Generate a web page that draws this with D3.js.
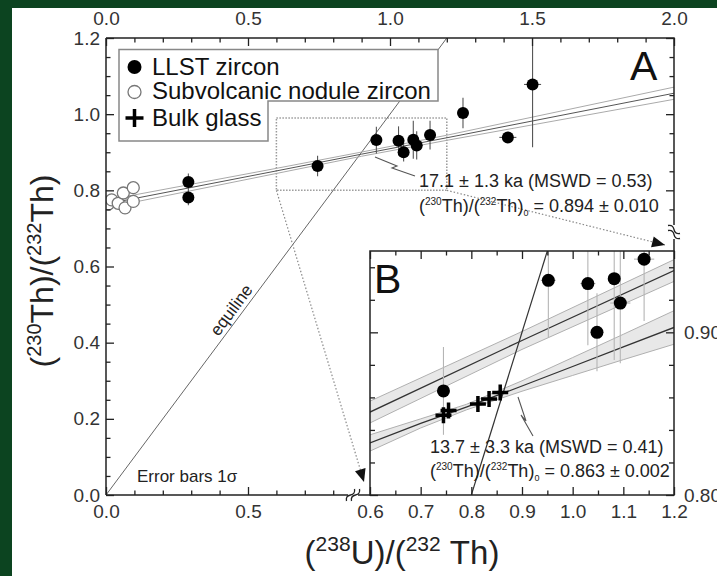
<!DOCTYPE html>
<html>
<head>
<meta charset="utf-8">
<script src="https://cdn.jsdelivr.net/npm/d3@7"></script>
<style>
body { margin: 0; background: #0c4420; }
svg { display: block; font-family: "Liberation Sans", Arial, sans-serif; }
</style>
</head>
<body>
<script>
// LLST zircon
var llstX  = [0.29, 0.29, 0.745, 0.952, 1.030, 1.048, 1.082, 1.094, 1.141, 1.257, 1.415, 1.502];
var llstY  = [0.822, 0.781, 0.864, 0.932, 0.930, 0.900, 0.933, 0.918, 0.945, 1.003, 0.939, 1.078];
var llstSx = [0.01, 0.01, 0.01, 0.015, 0.015, 0.012, 0.012, 0.02, 0.02, 0.015, 0.03, 0.03];
var llstSy = [0.022, 0.02, 0.027, 0.035, 0.038, 0.024, 0.05, 0.037, 0.038, 0.04, 0.012, 0.165];

// subvolcanic nodule zircon
var nodX = [0.008, 0.020, 0.043, 0.061, 0.067, 0.096, 0.096];
var nodY = [0.764, 0.775, 0.766, 0.793, 0.754, 0.771, 0.807];

// bulk glass
var glassX = [0.745, 0.755, 0.813, 0.835, 0.857];
var glassY = [0.849, 0.852, 0.856, 0.859, 0.863];

// isochrons (centre line and half width of the error envelope)
var isoAX    = [0, 0.6, 0.9, 1.2, 2.0];
var isoAY    = [0.764, 0.851, 0.895, 0.938, 1.055];
var isoAHalf = [0.010, 0.0067, 0.0055, 0.0067, 0.016];
var isoBX    = [0.6, 0.7, 0.79, 0.9, 1.0, 1.1, 1.2];
var isoBY    = [0.832, 0.844, 0.854, 0.867, 0.879, 0.891, 0.903];
var isoBHalf = [0.005, 0.0028, 0.0017, 0.0032, 0.0055, 0.0078, 0.0103];
var equiline = [0, 1.2];
var zoomBox  = [0.6, 1.2, 0.80, 0.99];

// ticks
var xMajA = [0, 0.5, 1.0, 1.5, 2.0];
var xMinA = [0.1, 0.2, 0.3, 0.4, 0.6, 0.7, 0.8, 0.9, 1.1, 1.2, 1.3, 1.4, 1.6, 1.7, 1.8, 1.9];
var yMajA = [0, 0.2, 0.4, 0.6, 0.8, 1.0, 1.2];
var yMinA = [0.05, 0.1, 0.15, 0.25, 0.3, 0.35, 0.45, 0.5, 0.55, 0.65, 0.7, 0.75, 0.85, 0.9, 0.95, 1.05, 1.1, 1.15];
var xBotMajA = [0, 0.5];
var xBotMinA = [0.1, 0.2, 0.3, 0.4, 0.6, 0.7, 0.8];
var yRightMajA = [0.8, 1.0, 1.2];
var yRightMinA = [0.75, 0.85, 0.9, 0.95, 1.05, 1.1, 1.15];
var xMajB = [0.6, 0.7, 0.8, 0.9, 1.0, 1.1, 1.2];
var xMinB = [0.65, 0.75, 0.85, 0.95, 1.05, 1.15];
var yMajB = [0.80, 0.90];
var yMinB = [0.82, 0.84, 0.86, 0.88, 0.92, 0.94];

var W = 717, H = 576;
var svg = d3.select('body').append('svg').attr('width', W).attr('height', H);
svg.append('rect').attr('width', W).attr('height', H).attr('fill', '#0c4420');
svg.append('rect').attr('x', 12).attr('y', 8).attr('width', W - 12).attr('height', H - 8).attr('fill', '#fff');

var xA = d3.scaleLinear().domain([0, 2]).range([106, 674]);
var yA = d3.scaleLinear().domain([0, 1.2]).range([495, 38]);
var xB = d3.scaleLinear().domain([0.6, 1.2]).range([370, 674]);
var yB = d3.scaleLinear().domain([0.8, 0.95]).range([495, 251]);

var defs = svg.append('defs');
defs.append('clipPath').attr('id', 'clipA').append('rect')
	.attr('x', 106).attr('y', 38).attr('width', 568).attr('height', 457);
defs.append('clipPath').attr('id', 'clipB').append('rect')
	.attr('x', 370).attr('y', 251).attr('width', 304).attr('height', 244);

// ---------- panel A ----------
var gA = svg.append('g').attr('clip-path', 'url(#clipA)');

gA.append('rect')
	.attr('x', xA(zoomBox[0])).attr('y', yA(zoomBox[3]))
	.attr('width', xA(zoomBox[1]) - xA(zoomBox[0]))
	.attr('height', yA(zoomBox[2]) - yA(zoomBox[3]))
	.attr('fill', 'none').attr('stroke', '#9a9a9a').attr('stroke-width', 1.5)
	.attr('stroke-dasharray', '1.5,1.5');

gA.append('line')
	.attr('x1', xA(equiline[0])).attr('y1', yA(equiline[0]))
	.attr('x2', xA(equiline[1])).attr('y2', yA(equiline[1]))
	.attr('stroke', '#666').attr('stroke-width', 1);

var isoA = isoAX.map((x, i) => ({x: x, y: isoAY[i], h: isoAHalf[i]}));
[[-1, '#aaa'], [1, '#aaa'], [0, '#555']].forEach(function(s) {
	gA.append('path')
		.attr('d', d3.line().x(d => xA(d.x)).y(d => yA(d.y + s[0] * d.h))(isoA))
		.attr('fill', 'none').attr('stroke', s[1]).attr('stroke-width', 1);
});

var llst = llstX.map((x, i) => ({x: x, y: llstY[i], sx: llstSx[i], sy: llstSy[i]}));
var nod = nodX.map((x, i) => ({x: x, y: nodY[i], sx: 0.01, sy: 0.015}));

function errBars(g, data, xs, ys, col) {
	g.selectAll(null).data(data).enter().append('line')
		.attr('x1', d => xs(d.x)).attr('x2', d => xs(d.x))
		.attr('y1', d => ys(d.y - d.sy)).attr('y2', d => ys(d.y + d.sy))
		.attr('stroke', col).attr('stroke-width', 1.1);
	g.selectAll(null).data(data).enter().append('line')
		.attr('x1', d => xs(d.x - d.sx)).attr('x2', d => xs(d.x + d.sx))
		.attr('y1', d => ys(d.y)).attr('y2', d => ys(d.y))
		.attr('stroke', col).attr('stroke-width', 1.1);
}

errBars(gA, nod, xA, yA, '#888');
errBars(gA, llst, xA, yA, '#555');

gA.selectAll(null).data(nod).enter().append('circle')
	.attr('cx', d => xA(d.x)).attr('cy', d => yA(d.y)).attr('r', 6)
	.attr('fill', '#fff').attr('stroke', '#777').attr('stroke-width', 1.3);
gA.selectAll(null).data(llst).enter().append('circle')
	.attr('cx', d => xA(d.x)).attr('cy', d => yA(d.y)).attr('r', 6)
	.attr('fill', '#000');

// legend
svg.append('polygon')
	.attr('points', '119,49.5 438,49.5 438,101 268,101 268,141 119,141')
	.attr('fill', '#fff').attr('stroke', '#888').attr('stroke-width', 1.5);
svg.append('circle').attr('cx', 134.5).attr('cy', 67).attr('r', 7).attr('fill', '#000');
svg.append('circle').attr('cx', 134.5).attr('cy', 92).attr('r', 6.5)
	.attr('fill', '#fff').attr('stroke', '#777').attr('stroke-width', 1.3);
svg.append('path').attr('d', 'M125.5,118H143.5M134.5,109V127')
	.attr('stroke', '#000').attr('stroke-width', 3.5);
[['LLST zircon', 75], ['Subvolcanic nodule zircon', 99], ['Bulk glass', 126]].forEach(function(t) {
	svg.append('text').attr('x', 152).attr('y', t[1]).attr('font-size', 24)
		.attr('fill', '#111').text(t[0]);
});

// dotted leaders with arrow heads
function leader(x1, y1, x2, y2) {
	svg.append('line').attr('x1', x1).attr('y1', y1).attr('x2', x2).attr('y2', y2)
		.attr('stroke', '#888').attr('stroke-width', 1.2).attr('stroke-dasharray', '1.5,2');
	var a = Math.atan2(y2 - y1, x2 - x1) * 180 / Math.PI;
	svg.append('path').attr('d', 'M0,0L-13,-5.5L-13,5.5Z').attr('fill', '#111')
		.attr('transform', 'translate(' + x2 + ',' + y2 + ') rotate(' + a + ')');
}
leader(xA(zoomBox[0]), yA(zoomBox[2]), 364, 482);
leader(xA(zoomBox[1]), yA(zoomBox[2]), 665, 245);

// ---------- panel B ----------
svg.append('rect').attr('x', 370).attr('y', 251).attr('width', 304).attr('height', 244).attr('fill', '#fff');
var gB = svg.append('g').attr('clip-path', 'url(#clipB)');

var isoB = isoBX.map((x, i) => ({x: x, y: isoBY[i], h: isoBHalf[i]}));
[isoA, isoB].forEach(function(iso) {
	gB.append('path')
		.attr('d', d3.area().x(d => xB(d.x)).y0(d => yB(d.y - d.h)).y1(d => yB(d.y + d.h))(iso))
		.attr('fill', '#e8e8e8');
	[-1, 1].forEach(function(s) {
		gB.append('path')
			.attr('d', d3.line().x(d => xB(d.x)).y(d => yB(d.y + s * d.h))(iso))
			.attr('fill', 'none').attr('stroke', '#b0b0b0').attr('stroke-width', 1);
	});
	gB.append('path')
		.attr('d', d3.line().x(d => xB(d.x)).y(d => yB(d.y))(iso))
		.attr('fill', 'none').attr('stroke', '#333').attr('stroke-width', 1.3);
});

gB.append('line')
	.attr('x1', xB(0.8)).attr('y1', yB(0.8)).attr('x2', xB(1.0)).attr('y2', yB(1.0))
	.attr('stroke', '#333').attr('stroke-width', 1.2);

errBars(gB, llst, xB, yB, '#b5b5b5');
gB.selectAll(null).data(llst).enter().append('circle')
	.attr('cx', d => xB(d.x)).attr('cy', d => yB(d.y)).attr('r', 6.5)
	.attr('fill', '#000');

var glass = glassX.map((x, i) => ({x: x, y: glassY[i]}));
gB.selectAll(null).data(glass).enter().append('path')
	.attr('d', 'M-8,0H8M0,-8V8')
	.attr('transform', d => 'translate(' + xB(d.x) + ',' + yB(d.y) + ')')
	.attr('stroke', '#000').attr('stroke-width', 3.5);

// ---------- axes ----------
function ticks(gen, scale, vals, size, fmt, pad, tx, ty) {
	var g = svg.append('g').attr('transform', 'translate(' + tx + ',' + ty + ')')
		.call(gen(scale).tickValues(vals).tickSize(size).tickPadding(pad)
			.tickFormat(fmt ? d3.format(fmt) : ''));
	g.select('.domain').remove();
	g.attr('font-size', 19).attr('font-family', null).attr('color', '#222');
	g.selectAll('line').attr('stroke-width', 1.3);
	g.selectAll('text').attr('fill', '#333');
}

ticks(d3.axisLeft, yA, yMajA, -8, '.1f', 6, 106, 0);
ticks(d3.axisLeft, yA, yMinA, -4.5, null, 6, 106, 0);
ticks(d3.axisTop, xA, xMajA, -8, '.1f', 13, 0, 38);
ticks(d3.axisTop, xA, xMinA, -4.5, null, 13, 0, 38);
ticks(d3.axisRight, yA, yRightMajA, -8, null, 6, 674, 0);
ticks(d3.axisRight, yA, yRightMinA, -4.5, null, 6, 674, 0);
ticks(d3.axisBottom, xA, xBotMajA, -8, '.1f', 10, 0, 495);
ticks(d3.axisBottom, xA, xBotMinA, -4.5, null, 10, 0, 495);

ticks(d3.axisBottom, xB, xMajB, -8, '.1f', 10, 0, 495);
ticks(d3.axisBottom, xB, xMinB, -4.5, null, 10, 0, 495);
ticks(d3.axisTop, xB, xMajB, -8, null, 10, 0, 251);
ticks(d3.axisTop, xB, xMinB, -4.5, null, 10, 0, 251);
ticks(d3.axisRight, yB, yMajB, -8, '.2f', 10, 674, 0);
ticks(d3.axisRight, yB, yMinB, -5, null, 10, 674, 0);
ticks(d3.axisLeft, yB, yMajB, -8, null, 10, 370, 0);
ticks(d3.axisLeft, yB, yMinB, -5, null, 10, 370, 0);

var frame = 'M106,38V495M106,38H674V225M674,239V251M106,495H348M358,495H370';
svg.append('path').attr('d', frame).attr('fill', 'none').attr('stroke', '#222').attr('stroke-width', 1.5);
svg.append('rect').attr('x', 370).attr('y', 251).attr('width', 304).attr('height', 244)
	.attr('fill', 'none').attr('stroke', '#222').attr('stroke-width', 1.5);

function breakMark(cx, cy, rot) {
	var g = svg.append('g').attr('transform', 'translate(' + cx + ',' + cy + ') rotate(' + rot + ')');
	[-2.5, 2.5].forEach(function(o) {
		g.append('path')
			.attr('d', 'M' + (o - 4) + ',6 Q' + (o - 5) + ',1 ' + o + ',0 Q' + (o + 5) + ',-1 ' + (o + 4) + ',-6')
			.attr('fill', 'none').attr('stroke', '#222').attr('stroke-width', 1.3);
	});
}
breakMark(353, 495, 0);
breakMark(674, 232, 90);

// ---------- text ----------
function rich(x, y, parts) {
	var t = svg.append('text').attr('x', x).attr('y', y).attr('fill', '#222');
	parts.forEach(function(p) {
		t.append('tspan').attr('font-size', p[1]).attr('dy', p[2] || 0).text(p[0]);
	});
	return t;
}

svg.append('text').attr('x', 630).attr('y', 80).attr('font-size', 41).attr('fill', '#111').text('A');
svg.append('text').attr('x', 374).attr('y', 293).attr('font-size', 41).attr('fill', '#111').text('B');

rich(419, 187, [['17.1 \u00b1 1.3 ka (MSWD = 0.53)', 18]]);
rich(419, 212, [['(', 18], ['230', 10, -7], ['Th)/(', 18, 7], ['232', 10, -7], ['Th)', 18, 7],
	['0', 9, 4], ['\u00a0= 0.894 \u00b1 0.010', 18, -4]]);
rich(430, 453, [['13.7 \u00b1 3.3 ka (MSWD = 0.41)', 18]]);
rich(430, 477, [['(', 18], ['230', 10, -7], ['Th)/(', 18, 7], ['232', 10, -7], ['Th)', 18, 7],
	['0', 9, 4], ['\u00a0= 0.863 \u00b1 0.002', 18, -4]]);
rich(137, 482, [['Error bars 1\u03c3', 17]]);

// zigzag pointers
svg.append('path').attr('d', 'M375,157L397,166L392,168L415,176')
	.attr('fill', 'none').attr('stroke', '#555').attr('stroke-width', 1.1);
svg.append('path').attr('d', 'M518,397L526,421L521,415L533,436')
	.attr('fill', 'none').attr('stroke', '#555').attr('stroke-width', 1.1);

// equiline label
var ang = Math.atan2(yA(equiline[1]) - yA(equiline[0]), xA(equiline[1]) - xA(equiline[0])) * 180 / Math.PI;
svg.append('text')
	.attr('transform', 'translate(' + (xA(0.47) - 3.5) + ',' + (yA(0.47) - 2.6) + ') rotate(' + ang + ')')
	.attr('text-anchor', 'middle').attr('font-size', 17).attr('fill', '#222').text('equiline');

// axis titles
rich(0, 0, [['(', 32], ['230', 20, -12], ['Th', 32, 12], [')/(', 32], ['232', 20, -12], ['Th', 32, 12], [')', 32]])
	.attr('text-anchor', 'middle').attr('transform', 'translate(53,271) rotate(-90)');
rich(402, 564, [['(', 33], ['238', 21, -13], ['U', 33, 13], [')/(', 33], ['232', 21, -13], ['\u00a0Th)', 33, 13]])
	.attr('text-anchor', 'middle');
</script>
</body>
</html>
